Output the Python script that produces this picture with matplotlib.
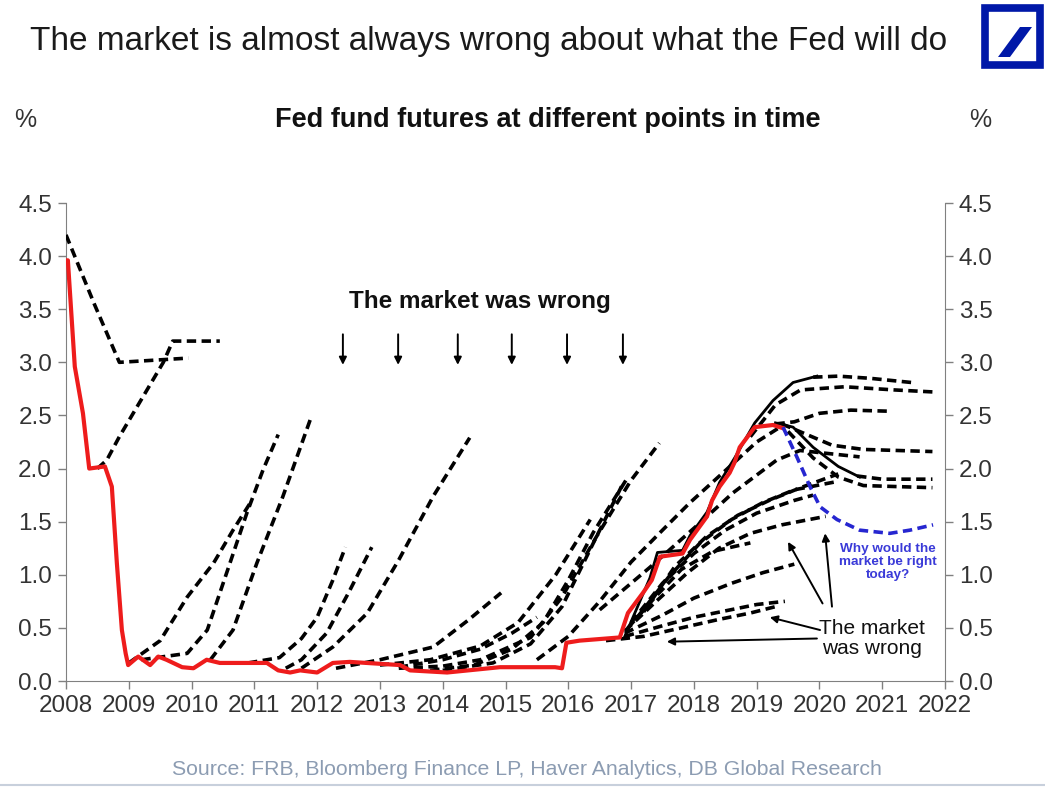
import matplotlib
matplotlib.use("Agg")
import matplotlib.pyplot as plt
from matplotlib.patches import Rectangle, Polygon

plt.rcParams['font.family'] = ['Liberation Sans', 'DejaVu Sans']

# Effective fed funds rate (red)
fed_funds = [(2008.0, 3.96), (2008.03, 3.96), (2008.14, 2.96), (2008.27, 2.52), (2008.37, 2.0),
             (2008.62, 2.02), (2008.73, 1.83), (2008.81, 1.11), (2008.89, 0.48), (2008.95, 0.26),
             (2008.99, 0.15), (2009.15, 0.23), (2009.34, 0.15), (2009.47, 0.23), (2009.6, 0.2),
             (2009.85, 0.13), (2010.03, 0.12), (2010.24, 0.2), (2010.45, 0.17), (2011.2, 0.17),
             (2011.38, 0.1), (2011.57, 0.08), (2011.73, 0.1), (2012.0, 0.08), (2012.25, 0.17),
             (2012.52, 0.18), (2013.32, 0.15), (2013.48, 0.1), (2014.07, 0.08), (2014.91, 0.13),
             (2015.79, 0.13), (2015.9, 0.12), (2015.97, 0.36), (2016.18, 0.38), (2016.82, 0.41),
             (2016.95, 0.64), (2017.19, 0.83), (2017.33, 0.95), (2017.46, 1.17), (2017.82, 1.2),
             (2017.94, 1.33), (2018.21, 1.55), (2018.29, 1.70), (2018.41, 1.83), (2018.57, 1.96),
             (2018.65, 2.06), (2018.73, 2.2), (2018.97, 2.39), (2019.26, 2.41), (2019.42, 2.38)]

# Futures curves that look solid (dense)
solid_up = [(2016.9, 0.42), (2017.14, 0.75), (2017.3, 0.97), (2017.42, 1.21), (2017.82, 1.23),
            (2017.94, 1.37), (2018.21, 1.59), (2018.41, 1.87), (2018.65, 2.1), (2018.97, 2.43),
            (2019.26, 2.64), (2019.58, 2.81), (2019.96, 2.87)]
solid_down = [(2019.3, 2.43), (2019.58, 2.39), (2019.9, 2.2), (2020.3, 2.02), (2020.64, 1.92)]

# Fed fund futures curves (dashed)
fwd_2008a = [(2008.0, 4.2), (2008.45, 3.55), (2008.85, 3.0), (2009.95, 3.04)]
fwd_2008b = [(2008.5, 2.0), (2008.65, 2.08), (2008.85, 2.3), (2009.55, 3.0), (2009.7, 3.2), (2010.45, 3.2)]
fwd_2009a = [(2009.0, 0.17), (2009.5, 0.38), (2009.93, 0.79), (2010.35, 1.11), (2010.66, 1.42), (2010.96, 1.7)]
fwd_2009b = [(2009.2, 0.2), (2009.93, 0.26), (2010.25, 0.48), (2010.56, 1.02), (2010.88, 1.58),
             (2011.14, 1.99), (2011.38, 2.32)]
fwd_2010 = [(2010.3, 0.2), (2010.66, 0.48), (2011.04, 1.11), (2011.45, 1.73), (2011.89, 2.46)]
fwd_2011a = [(2010.9, 0.17), (2011.4, 0.22), (2011.75, 0.4), (2012.0, 0.6), (2012.25, 0.95), (2012.45, 1.26)]
fwd_2011b = [(2011.5, 0.12), (2011.75, 0.2), (2012.15, 0.45), (2012.5, 0.83), (2012.87, 1.26)]
fwd_2011c = [(2011.75, 0.12), (2012.25, 0.32), (2012.8, 0.64), (2013.3, 1.14), (2013.85, 1.74), (2014.43, 2.29)]
fwd_2012 = [(2012.3, 0.12), (2013.0, 0.2), (2013.85, 0.32), (2014.4, 0.57), (2014.93, 0.83)]
fwd_2013a = [(2013.3, 0.12), (2014.0, 0.14), (2014.6, 0.2), (2015.4, 0.41), (2015.9, 0.79),
             (2016.45, 1.36), (2017.0, 1.89), (2017.45, 2.24)]
fwd_2013b = [(2013.8, 0.1), (2014.5, 0.15), (2015.1, 0.3), (2015.6, 0.55), (2016.0, 0.95),
             (2016.4, 1.4), (2016.95, 1.92)]
fwd_2014a = [(2014.0, 0.1), (2014.8, 0.17), (2015.4, 0.35), (2015.9, 0.7), (2016.4, 1.3), (2016.88, 1.87)]
fwd_2013c = [(2013.0, 0.15), (2013.8, 0.2), (2014.6, 0.33), (2015.2, 0.55), (2015.8, 1.0), (2016.35, 1.52)]
fwd_2013d = [(2013.3, 0.13), (2014.0, 0.2), (2014.6, 0.3), (2015.1, 0.45), (2015.5, 0.6)]
fwd_2015a = [(2015.5, 0.2), (2016.0, 0.42), (2016.5, 0.75), (2017.0, 1.12), (2017.5, 1.42),
             (2017.94, 1.68), (2018.5, 1.98), (2019.0, 2.25), (2019.4, 2.4)]
fwd_2016a = [(2016.5, 0.67), (2017.3, 1.07), (2018.1, 1.49), (2018.62, 1.77), (2019.32, 2.08),
             (2019.69, 2.17), (2020.64, 2.11)]
fwd_2017a = [(2017.1, 0.6), (2017.6, 0.98), (2018.1, 1.3), (2018.6, 1.52), (2019.1, 1.68),
             (2019.6, 1.8), (2020.3, 1.88)]
fwd_2017b = [(2017.2, 0.65), (2017.7, 1.08), (2018.2, 1.36), (2018.7, 1.56), (2019.2, 1.7),
             (2019.7, 1.82), (2020.3, 1.95)]
fwd_2017c = [(2017.0, 0.55), (2017.5, 0.92), (2018.0, 1.2), (2018.5, 1.42), (2019.0, 1.58),
             (2019.6, 1.7), (2019.9, 1.75)]
fwd_2017d = [(2016.9, 0.47), (2017.4, 0.75), (2017.9, 1.02), (2018.4, 1.25), (2018.9, 1.39),
             (2019.4, 1.47), (2020.1, 1.55)]
fwd_2017e = [(2016.95, 0.5), (2017.4, 0.8), (2017.8, 1.05), (2018.3, 1.22), (2018.9, 1.3)]
fwd_2017f = [(2016.9, 0.45), (2017.5, 0.62), (2018.0, 0.78), (2018.6, 0.92), (2019.1, 1.02), (2019.6, 1.1)]
fwd_2017g = [(2016.9, 0.42), (2017.5, 0.52), (2018.0, 0.6), (2018.5, 0.66), (2019.0, 0.72), (2019.45, 0.75)]
fwd_2016b = [(2016.6, 0.38), (2017.2, 0.42), (2017.8, 0.5), (2018.4, 0.58), (2018.9, 0.64), (2019.3, 0.7)]
fwd_2019a = [(2019.9, 2.86), (2020.3, 2.87), (2020.8, 2.85), (2021.47, 2.81)]
fwd_2019b = [(2018.9, 2.3), (2019.3, 2.6), (2019.7, 2.74), (2020.4, 2.77), (2021.2, 2.74), (2021.85, 2.72)]
fwd_2019c = [(2019.3, 2.42), (2019.6, 2.44), (2020.0, 2.52), (2020.5, 2.55), (2021.1, 2.54)]
fwd_2019d = [(2019.4, 2.42), (2019.8, 2.32), (2020.2, 2.22), (2020.7, 2.18), (2021.8, 2.16)]
fwd_2019e = [(2020.6, 1.93), (2021.0, 1.9), (2021.8, 1.9)]
fwd_2019f = [(2019.5, 2.35), (2019.9, 2.1), (2020.3, 1.92), (2020.7, 1.84), (2021.8, 1.82)]

# Current market pricing (blue)
today_curve = [(2019.42, 2.39), (2019.64, 2.11), (2019.85, 1.83), (2020.01, 1.64), (2020.28, 1.52),
               (2020.64, 1.42), (2021.12, 1.39), (2021.44, 1.42), (2021.81, 1.47)]

futures_curves = [fwd_2008a, fwd_2008b, fwd_2009a, fwd_2009b, fwd_2010, fwd_2011a, fwd_2011b,
                  fwd_2011c, fwd_2012, fwd_2013a, fwd_2013b, fwd_2014a, fwd_2013c, fwd_2013d,
                  fwd_2015a, fwd_2016a, fwd_2017a, fwd_2017b, fwd_2017c, fwd_2017d, fwd_2017e,
                  fwd_2017f, fwd_2017g, fwd_2016b, fwd_2019a, fwd_2019b, fwd_2019c, fwd_2019d,
                  fwd_2019e, fwd_2019f]

wrong_arrow_years = [2012.41, 2013.29, 2014.24, 2015.10, 2015.98, 2016.87]
years = list(range(2008, 2023))
y_ticks = [0.0, 0.5, 1.0, 1.5, 2.0, 2.5, 3.0, 3.5, 4.0, 4.5]

fig = plt.figure(figsize=(10.45, 7.92), dpi=100)
ax = fig.add_axes([66/1045, 1 - 681/792, (945 - 66)/1045, (681 - 203)/792])

for curve in futures_curves:
    xs, ys = zip(*curve)
    ax.plot(xs, ys, color='black', lw=2.6, linestyle=(0, (2.6, 1.5)), solid_capstyle='butt', zorder=3)

for curve in [solid_up, solid_down]:
    xs, ys = zip(*curve)
    ax.plot(xs, ys, color='black', lw=2.0, zorder=3)

xs, ys = zip(*fed_funds)
ax.plot(xs, ys, color='#ee1c1c', lw=3.0, zorder=4)

xs, ys = zip(*today_curve)
ax.plot(xs, ys, color='#2626d0', lw=2.6, linestyle=(0, (2.6, 1.5)), zorder=5)

# arrows: "The market was wrong"
for yr in wrong_arrow_years:
    ax.annotate('', xy=(yr, 2.95), xytext=(yr, 3.29),
                arrowprops=dict(arrowstyle='-|>', color='black', lw=1.4, mutation_scale=11))
ax.text(2014.59, 3.57, 'The market was wrong', ha='center', va='center',
        fontsize=17.5, fontweight='bold', color='#111111')

arrow_props = dict(arrowstyle='-|>', color='black', lw=1.4, mutation_scale=11, shrinkA=0, shrinkB=0)
ax.annotate('', xy=(2019.50, 1.31), xytext=(2020.05, 0.73), arrowprops=arrow_props)
ax.annotate('', xy=(2020.09, 1.39), xytext=(2020.20, 0.70), arrowprops=arrow_props)
ax.annotate('', xy=(2019.21, 0.60), xytext=(2020.01, 0.48), arrowprops=arrow_props)
ax.annotate('', xy=(2017.57, 0.37), xytext=(2019.96, 0.40), arrowprops=arrow_props)
ax.text(2020.83, 0.40, 'The market\nwas wrong', ha='center', va='center',
        fontsize=15, color='#111111', linespacing=1.05)
ax.text(2021.09, 1.12, 'Why would the\nmarket be right\ntoday?', ha='center', va='center',
        fontsize=9.7, fontweight='bold', color='#3a3ad8', linespacing=1.1)

ax.set_xlim(2008, 2022)
ax.set_ylim(0, 4.5)
ax.set_xticks(years)
ax.set_xticklabels([str(y) for y in years])
ax.set_yticks(y_ticks)
ax.set_yticklabels([f'{v:.1f}' for v in y_ticks])
ax.tick_params(axis='both', direction='out', length=6, width=1, color='#808080',
               labelsize=17.5, labelcolor='#333333', pad=4)
ax.tick_params(axis='y', right=True, labelright=True)
for side in ['left', 'right', 'bottom']:
    ax.spines[side].set_color('#808080')
ax.spines['top'].set_visible(False)

fig.text(0.029, 0.947, 'The market is almost always wrong about what the Fed will do',
         ha='left', va='center', fontsize=24, color='#1a1a1a')
fig.text(0.524, 0.848, 'Fed fund futures at different points in time', ha='center', va='center',
         fontsize=19.5, fontweight='bold', color='#111111')
fig.text(0.024, 0.848, '%', ha='center', va='center', fontsize=18, color='#333333')
fig.text(0.938, 0.848, '%', ha='center', va='center', fontsize=18, color='#333333')
fig.text(0.504, 0.028, 'Source: FRB, Bloomberg Finance LP, Haver Analytics, DB Global Research',
         ha='center', va='center', fontsize=15.3, color='#8c9cb2')
fig.add_artist(plt.Line2D([0, 1], [0.009, 0.009], color='#c8d0dc', lw=1.5, transform=fig.transFigure))

# Deutsche Bank logo
W, H = 1045, 792
fig.add_artist(Rectangle((985/W, 1 - 65/H), 55/W, 57/H, transform=fig.transFigure,
                         fill=False, edgecolor='#0018a8', lw=5.5))
fig.add_artist(Polygon([(998/W, 1 - 57/H), (1010/W, 1 - 57/H), (1032/W, 1 - 27/H), (1020/W, 1 - 27/H)],
                       closed=True, transform=fig.transFigure, facecolor='#0018a8', edgecolor='none'))

fig.savefig('out.png', dpi=100)
